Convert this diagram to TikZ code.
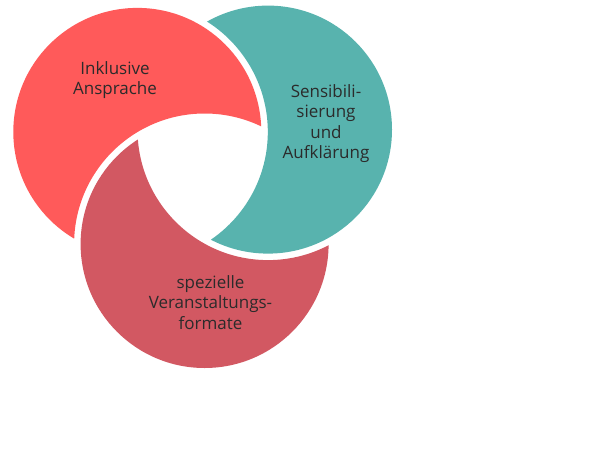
\documentclass[tikz,border=0pt]{standalone}
\usepackage{fontspec}
\setmainfont{Open Sans}
\definecolor{cRed}{HTML}{FF5A5A}
\definecolor{cTeal}{HTML}{58B3AE}
\definecolor{cDark}{HTML}{D25862}
\definecolor{cText}{HTML}{2B2B2B}
\begin{document}
\begin{tikzpicture}[x=1pt,y=-1pt,
  lbl/.style={font=\fontsize{17}{20.5}\selectfont, align=center, text=cText, inner sep=0pt, anchor=north}]
\useasboundingbox (0,0) rectangle (610,458);
\def\R{124pt}
\def\RG{130.5pt}
\coordinate (red) at (137.3,131.9);
\coordinate (teal) at (268,129.6);
\coordinate (dark) at (204.6,244);
% red = red circle minus enlarged dark circle
\begin{scope}[even odd rule]
  \clip (-50,-50) rectangle (660,508) (dark) circle[radius=\RG];
  \fill[cRed] (red) circle[radius=\R];
\end{scope}
% teal = teal circle minus enlarged red circle
\begin{scope}[even odd rule]
  \clip (-50,-50) rectangle (660,508) (red) circle[radius=\RG];
  \fill[cTeal] (teal) circle[radius=\R];
\end{scope}
% dark = dark circle minus enlarged teal circle
\begin{scope}[even odd rule]
  \clip (-50,-50) rectangle (660,508) (teal) circle[radius=\RG];
  \fill[cDark] (dark) circle[radius=\R];
\end{scope}
\node[lbl] (t1) at (115,61) {Inklusive\\Ansprache};
\node[lbl] (t2) at (326,84) {Sensibili-\\sierung\\und\\Aufklärung};
\node[lbl] (t3) at (210.5,275) {spezielle\\Veranstaltungs-\\formate};
\end{tikzpicture}
\end{document}
